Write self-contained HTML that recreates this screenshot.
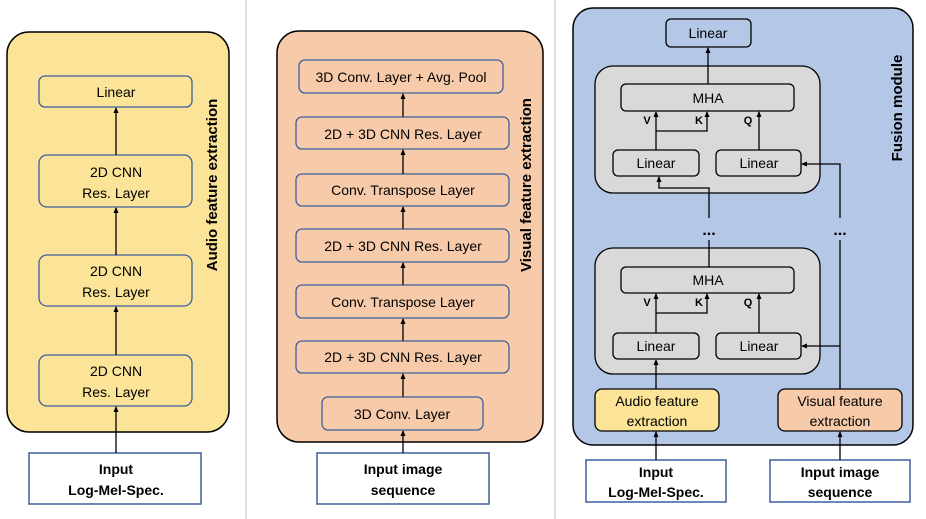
<!DOCTYPE html>
<html><head><style>body{margin:0;background:#fff}svg{display:block}text{font-family:"Liberation Sans",sans-serif}</style></head>
<body>
<svg width="926" height="519" viewBox="0 0 926 519" xmlns="http://www.w3.org/2000/svg">
<defs><marker id="a" markerWidth="6" markerHeight="6" refX="5" refY="3" orient="auto" markerUnits="userSpaceOnUse"><path d="M0,0.5 L6,3 L0,5.5 z" fill="#000"/></marker></defs>
<line x1="246" y1="0" x2="246" y2="519" stroke="#e2e2e2" stroke-width="2"/>
<line x1="555" y1="0" x2="555" y2="519" stroke="#e2e2e2" stroke-width="2"/>
<g font-size="14" text-anchor="middle" fill="#000">
<!-- Left -->
<rect x="7" y="32" width="222" height="400" rx="22" fill="#fbe497" stroke="#000" stroke-width="1.5"/>
<g fill="#fbe497" stroke="#3d5f9e" stroke-width="1.3">
<rect x="39" y="76" width="153" height="31" rx="6"/>
<rect x="39" y="155" width="153" height="52" rx="8"/>
<rect x="39" y="255" width="153" height="51" rx="8"/>
<rect x="39" y="355" width="153" height="51" rx="8"/>
</g>
<rect x="29" y="453" width="172" height="51" fill="#fff" stroke="#3d5f9e" stroke-width="1.5"/>
<g stroke="#000" stroke-width="1.3" marker-end="url(#a)">
<line x1="116" y1="155" x2="116" y2="108"/><line x1="116" y1="255" x2="116" y2="208"/><line x1="116" y1="355" x2="116" y2="307"/><line x1="116" y1="453" x2="116" y2="407"/>
</g>
<text x="116" y="97">Linear</text>
<text x="116" y="177">2D CNN</text><text x="116" y="198">Res. Layer</text>
<text x="116" y="276">2D CNN</text><text x="116" y="297">Res. Layer</text>
<text x="116" y="376">2D CNN</text><text x="116" y="397">Res. Layer</text>
<g font-weight="bold"><text x="116" y="474">Input</text><text x="116" y="495">Log-Mel-Spec.</text></g>
<text transform="translate(217,185) rotate(-90)" font-weight="bold" font-size="15">Audio feature extraction</text>
<!-- Middle -->
<rect x="277" y="31" width="266" height="411" rx="22" fill="#f7cbaa" stroke="#000" stroke-width="1.5"/>
<g fill="#f7cbaa" stroke="#3d5f9e" stroke-width="1.3">
<rect x="299" y="60" width="204" height="33" rx="6"/>
<rect x="296" y="117" width="213" height="32" rx="6"/>
<rect x="296" y="174" width="213" height="32" rx="6"/>
<rect x="296" y="229" width="213" height="33" rx="6"/>
<rect x="296" y="285" width="213" height="33" rx="6"/>
<rect x="296" y="341" width="213" height="32" rx="6"/>
<rect x="322" y="397" width="161" height="33" rx="6"/>
</g>
<rect x="317" y="453" width="172" height="51" fill="#fff" stroke="#3d5f9e" stroke-width="1.5"/>
<g stroke="#000" stroke-width="1.3" marker-end="url(#a)">
<line x1="403" y1="117" x2="403" y2="94"/><line x1="403" y1="174" x2="403" y2="150"/><line x1="403" y1="229" x2="403" y2="207"/><line x1="403" y1="285" x2="403" y2="263"/><line x1="403" y1="341" x2="403" y2="319"/><line x1="403" y1="397" x2="403" y2="374"/><line x1="403" y1="453" x2="403" y2="431"/>
</g>
<text x="401" y="82">3D Conv. Layer + Avg. Pool</text>
<text x="403" y="139">2D + 3D CNN Res. Layer</text>
<text x="403" y="195">Conv. Transpose Layer</text>
<text x="403" y="251">2D + 3D CNN Res. Layer</text>
<text x="403" y="307">Conv. Transpose Layer</text>
<text x="403" y="362">2D + 3D CNN Res. Layer</text>
<text x="402" y="419">3D Conv. Layer</text>
<g font-weight="bold"><text x="403" y="474">Input image</text><text x="403" y="495">sequence</text></g>
<text transform="translate(531,185) rotate(-90)" font-weight="bold" font-size="15">Visual feature extraction</text>
<!-- Right -->
<rect x="573" y="8" width="340" height="437" rx="20" fill="#b4c7e7" stroke="#000" stroke-width="1.5"/>
<text transform="translate(902,108) rotate(-90)" font-weight="bold" font-size="15">Fusion module</text>
<rect x="666" y="19" width="85" height="28" rx="5" fill="#b4c7e7" stroke="#000" stroke-width="1.3"/>
<text x="708" y="38">Linear</text>
<g fill="#d9d9d9" stroke="#000" stroke-width="1.3">
<rect x="595" y="66" width="225" height="127" rx="18"/>
<rect x="621" y="84" width="173" height="27" rx="5"/>
<rect x="613" y="150" width="86" height="26" rx="5"/>
<rect x="716" y="150" width="85" height="26" rx="5"/>
<rect x="595" y="248" width="225" height="126" rx="18"/>
<rect x="621" y="267" width="173" height="26" rx="5"/>
<rect x="613" y="333" width="86" height="26" rx="5"/>
<rect x="716" y="333" width="85" height="26" rx="5"/>
</g>
<rect x="595" y="389" width="124" height="42" rx="7" fill="#fbe497" stroke="#000" stroke-width="1.3"/>
<rect x="778" y="389" width="124" height="42" rx="7" fill="#f7cbaa" stroke="#000" stroke-width="1.3"/>
<rect x="586" y="460" width="140" height="42" fill="#fff" stroke="#3d5f9e" stroke-width="1.5"/>
<rect x="770" y="460" width="140" height="42" fill="#fff" stroke="#3d5f9e" stroke-width="1.5"/>
<g stroke="#000" stroke-width="1.3" fill="none">
<line x1="708" y1="84" x2="708" y2="48" marker-end="url(#a)"/>
<line x1="656" y1="150" x2="656" y2="112" marker-end="url(#a)"/>
<polyline points="656,131 707,131 707,112" marker-end="url(#a)"/>
<line x1="759" y1="150" x2="759" y2="112" marker-end="url(#a)"/>
<polyline points="709,218 709,188 659,188 659,177" marker-end="url(#a)"/>
<polyline points="840,218 840,164 802,164" marker-end="url(#a)"/>
<line x1="709" y1="240" x2="709" y2="267"/>
<line x1="840" y1="240" x2="840" y2="389"/>
<line x1="656" y1="333" x2="656" y2="294" marker-end="url(#a)"/>
<polyline points="656,313 707,313 707,294" marker-end="url(#a)"/>
<line x1="759" y1="333" x2="759" y2="294" marker-end="url(#a)"/>
<line x1="840" y1="346" x2="802" y2="346" marker-end="url(#a)"/>
<line x1="656" y1="389" x2="656" y2="360" marker-end="url(#a)"/>
<line x1="656" y1="460" x2="656" y2="432" marker-end="url(#a)"/>
<line x1="840" y1="460" x2="840" y2="432" marker-end="url(#a)"/>
</g>
<text x="708" y="103">MHA</text><text x="708" y="285">MHA</text>
<text x="656" y="168">Linear</text><text x="759" y="168">Linear</text>
<text x="656" y="351">Linear</text><text x="759" y="351">Linear</text>
<g font-weight="bold" font-size="11"><text x="647" y="124">V</text><text x="699" y="124">K</text><text x="748" y="124">Q</text>
<text x="647" y="306">V</text><text x="699" y="306">K</text><text x="748" y="306">Q</text></g>
<g font-weight="bold" font-size="16"><text x="709" y="235">...</text><text x="840" y="235">...</text></g>
<text x="657" y="406">Audio feature</text><text x="657" y="426">extraction</text>
<text x="840" y="406">Visual feature</text><text x="840" y="426">extraction</text>
<g font-weight="bold"><text x="656" y="477">Input</text><text x="656" y="497">Log-Mel-Spec.</text>
<text x="840" y="477">Input image</text><text x="840" y="497">sequence</text></g>
</g>
</svg>
</body></html>
